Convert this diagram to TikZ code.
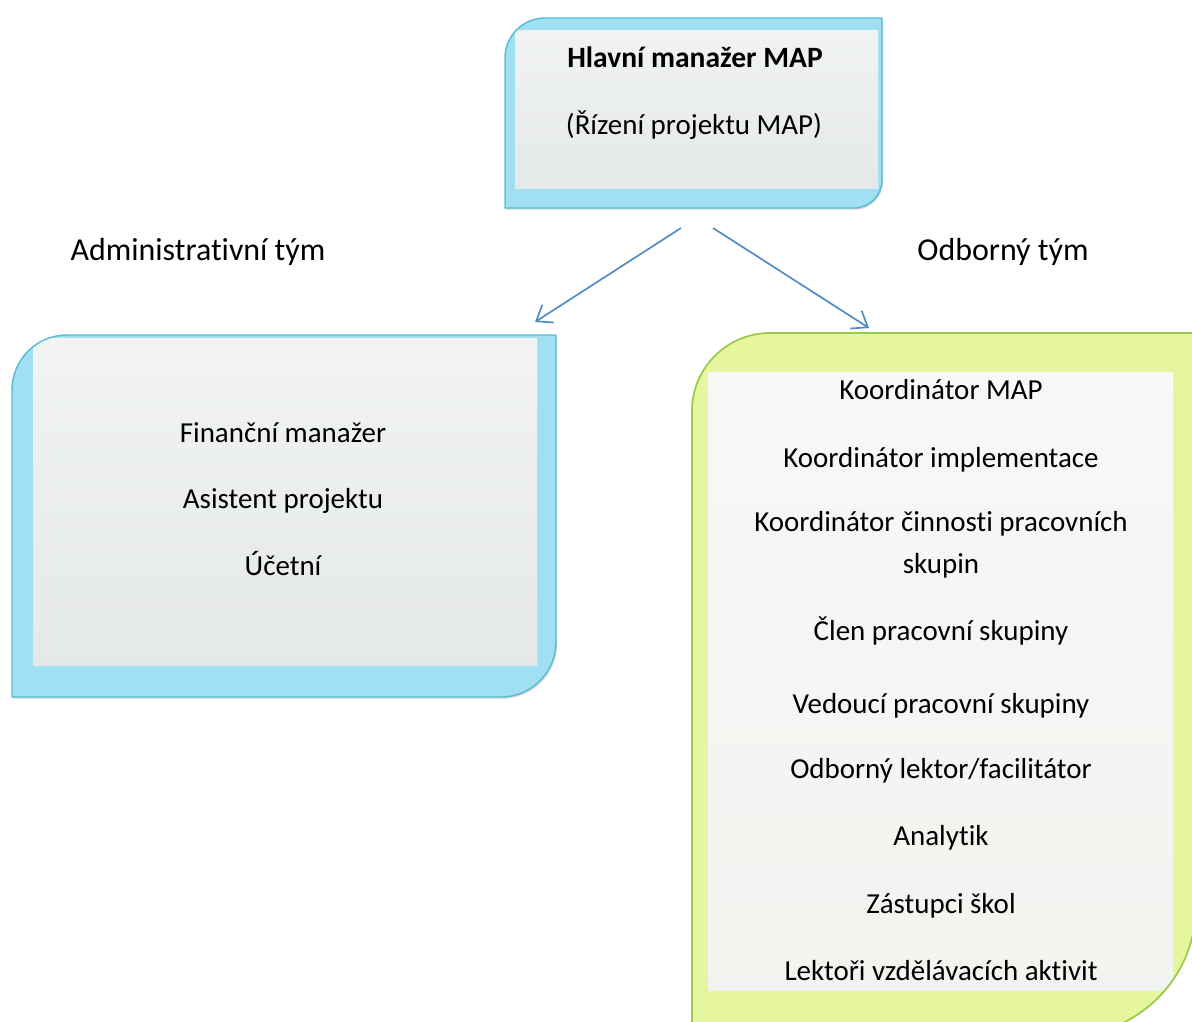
\documentclass[tikz,border=0pt]{standalone}
\usepackage{fontspec}
\setmainfont{Carlito}[Ligatures=NoCommon]
\usetikzlibrary{arrows.meta,shadows}

\definecolor{cyanline}{RGB}{86,188,212}
\definecolor{cyanband}{RGB}{160,224,242}
\definecolor{paletop}{RGB}{242,244,244}
\definecolor{palebot}{RGB}{228,231,231}
\definecolor{greenline}{RGB}{152,202,72}
\definecolor{greenband}{RGB}{230,246,158}
\definecolor{greentop}{RGB}{248,249,247}
\definecolor{greenbot}{RGB}{241,243,239}
\definecolor{arrowblue}{RGB}{80,140,196}

\tikzset{
  role/.style={font=\fontsize{20.6}{24}\selectfont, inner sep=0pt, anchor=base},
  chiefrole/.style={role, font=\fontsize{21}{24}\selectfont\bfseries},
  teamlabel/.style={role, font=\fontsize{22.7}{26}\selectfont},
  bluebox/.style={fill=cyanband, draw=cyanline, line width=1pt,
    drop shadow={shadow xshift=0.8pt, shadow yshift=-1.2pt, opacity=0.3}},
  greenbox/.style={fill=greenband, draw=greenline, line width=1.2pt},
  link/.style={draw=arrowblue, line width=1.2pt, -{Straight Barb[length=10pt,width=15pt]}},
}

\begin{document}
\begin{tikzpicture}[x=0.025cm, y=-0.025cm]
  \useasboundingbox (0,0) rectangle (1192,1021);
  \fill[white] (0,0) rectangle (1192,1021);

  % boxes
  \path[bluebox, path picture={\shade[top color=paletop, bottom color=palebot] (515,30) rectangle (878,188);}]
    (505,208) -- (505,58) .. controls (505,35.9) and (522.9,18) .. (545,18) -- (882,18)
    -- (882,180) .. controls (882,195.5) and (869.5,208) .. (854,208) -- cycle;
  \path[bluebox, path picture={\shade[top color=paletop, bottom color=palebot] (33,338) rectangle (537,665);}]
    (12,697) -- (12,390) .. controls (12,359.6) and (36.6,335) .. (67,335) -- (556,335)
    -- (556,642) .. controls (556,672.4) and (531.4,697) .. (501,697) -- cycle;
  \begin{scope}
    \clip (0,0) rectangle (1192,1021);
    \path[greenbox, path picture={\shade[top color=greentop, bottom color=greenbot] (708,372) rectangle (1173,990);}]
      (692,1036) -- (692,411) .. controls (692,367.9) and (726.9,333) .. (770,333) -- (1196,333)
      -- (1196,906) .. controls (1196,977.8) and (1137.8,1036) .. (1066,1036) -- cycle;
  \end{scope}

  % top
  \node[chiefrole] (chief) at (695,67) {Hlavní manažer MAP};
  \node[role] (chiefnote) at (694,134) {(Řízení projektu MAP)};

  % team labels
  \node[teamlabel] (admin) at (198,260) {Administrativní tým};
  \node[teamlabel] (expert) at (1003,260) {Odborný tým};

  % administrative team
  \node[role] (finance) at (283,442) {Finanční manažer};
  \node[role] (assistant) at (283,508) {Asistent projektu};
  \node[role] (accountant) at (283,575) {Účetní};

  % expert team
  \node[role] (mapcoord) at (941,399) {Koordinátor MAP};
  \node[role] (implcoord) at (941,467) {Koordinátor implementace};
  \node[role] (groupcoord) at (941,531) {Koordinátor činnosti pracovních};
  \node[role] (groupcoordb) at (941,573) {skupin};
  \node[role] (member) at (941,640) {Člen pracovní skupiny};
  \node[role] (leader) at (941,713) {Vedoucí pracovní skupiny};
  \node[role] (lecturer) at (941,778) {Odborný lektor/facilitátor};
  \node[role] (analyst) at (941,845) {Analytik};
  \node[role] (schools) at (941,913) {Zástupci škol};
  \node[role] (trainers) at (941,980) {Lektoři vzdělávacích aktivit};

  % arrows
  \coordinate (forkL) at (681,228);
  \coordinate (forkR) at (713,228);
  \coordinate (adminin) at (535,322);
  \coordinate (expertin) at (869,328);
  \draw[link] (forkL) -- (adminin);
  \draw[link] (forkR) -- (expertin);
\end{tikzpicture}
\end{document}
